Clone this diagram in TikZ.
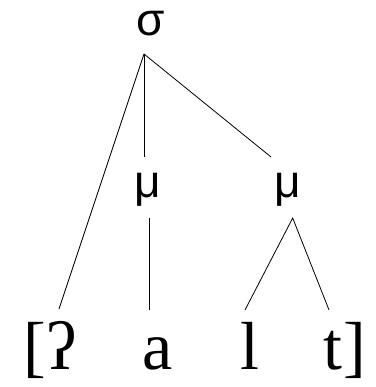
\documentclass[tikz,border=0pt]{standalone}
\usepackage{fontspec}
\newfontfamily\sansf{Liberation Sans}
\newfontfamily\seriff{Liberation Serif}
\begin{document}
\begin{tikzpicture}[x=1pt,y=-1pt,
  upper/.style={font=\sansf\fontsize{46}{50}\selectfont, inner sep=0pt, anchor=base},
  seg/.style={font=\seriff\fontsize{68}{72}\selectfont, inner sep=0pt, anchor=base},
  branch/.style={draw=black, line width=0.8pt}]
\useasboundingbox (0,0) rectangle (375,387);
\node[upper] (sigma) at (151,36) {σ};
\node[upper] (mu1) at (148,197) {μ};
\node[upper] (mu2) at (288,197) {μ};
\node[seg] (lb) at (34.5,369) {[};
\node[seg] (glot) at (62,369) {ʔ};
\node[seg] (a) at (158,369) {a};
\node[seg] (l) at (250,369) {l};
\node[seg] (t) at (333,369) {t};
\node[seg] (rb) at (355,369) {]};
\coordinate (apex) at (144,54);
\coordinate (m1top) at (144,157);
\coordinate (m2top) at (271,157);
\coordinate (m1bot) at (149,218);
\coordinate (m2bot) at (292.7,218);
\coordinate (glotT) at (59,309);
\coordinate (aT) at (149,310);
\coordinate (lT) at (245,310);
\coordinate (tT) at (329,310);
\draw[branch] (apex) -- (glotT);
\draw[branch] (apex) -- (m1top);
\draw[branch] (apex) -- (m2top);
\draw[branch] (m1bot) -- (aT);
\draw[branch] (lT) -- (m2bot) -- (tT);
\end{tikzpicture}
\end{document}
